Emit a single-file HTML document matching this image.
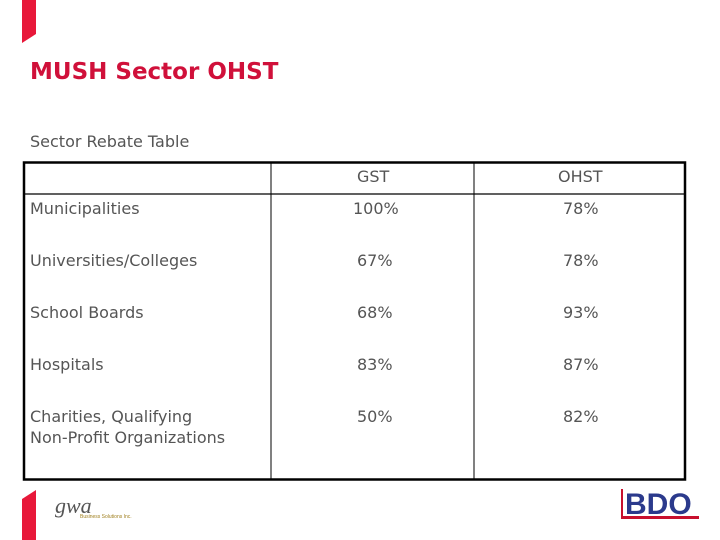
<!DOCTYPE html>
<html><head><meta charset="utf-8"><style>
body{margin:0;width:720px;height:540px;background:#fff;position:relative;overflow:hidden;font-family:"DejaVu Sans","Liberation Sans",sans-serif;}
.abs{position:absolute;}
.t{position:absolute;font-size:16px;color:#555;line-height:21px;}
</style></head><body>
<svg class="abs" style="left:0;top:0" width="720" height="540">
<polygon points="22,0 36,0 36,34 22,43" fill="#e8183a"/>
<polygon points="22,499 36,490 36,540 22,540" fill="#e8183a"/>
<rect x="24" y="162.5" width="661" height="317" fill="none" stroke="#000" stroke-width="2.5"/>
<line x1="24" y1="194" x2="685" y2="194" stroke="#000" stroke-width="1.2"/>
<line x1="271" y1="162" x2="271" y2="480" stroke="#000" stroke-width="1"/>
<line x1="474" y1="162" x2="474" y2="480" stroke="#000" stroke-width="1"/>
<text x="625" y="514" font-family="Liberation Sans" font-weight="bold" font-size="30" fill="#2b3a8c">BDO</text>
<rect x="621" y="489" width="2" height="30" fill="#c8102e"/>
<rect x="621" y="516" width="78" height="3" fill="#c8102e"/>
<text x="55" y="513" font-family="Liberation Serif" font-style="italic" font-size="22" fill="#555">gwa</text>
<text x="80" y="518" font-family="Liberation Sans" font-size="5" fill="#a08020">Business Solutions Inc.</text>
</svg>
<div class="abs" style="left:30px;top:59px;font-size:23px;font-weight:bold;color:#d0103a;">MUSH Sector OHST</div>
<div class="abs" style="left:30px;top:132px;font-size:16px;color:#555;">Sector Rebate Table</div>
<div class="t" style="left:357px;top:166px">GST</div>
<div class="t" style="left:558px;top:166px">OHST</div>
<div class="t" style="left:30px;top:198px">Municipalities</div>
<div class="t" style="left:353px;top:198px">100%</div>
<div class="t" style="left:563px;top:198px">78%</div>
<div class="t" style="left:30px;top:250px">Universities/Colleges</div>
<div class="t" style="left:357px;top:250px">67%</div>
<div class="t" style="left:563px;top:250px">78%</div>
<div class="t" style="left:30px;top:302px">School Boards</div>
<div class="t" style="left:357px;top:302px">68%</div>
<div class="t" style="left:563px;top:302px">93%</div>
<div class="t" style="left:30px;top:354px">Hospitals</div>
<div class="t" style="left:357px;top:354px">83%</div>
<div class="t" style="left:563px;top:354px">87%</div>
<div class="t" style="left:30px;top:406px">Charities, Qualifying<br>Non-Profit Organizations</div>
<div class="t" style="left:357px;top:406px">50%</div>
<div class="t" style="left:563px;top:406px">82%</div>
</body></html>
